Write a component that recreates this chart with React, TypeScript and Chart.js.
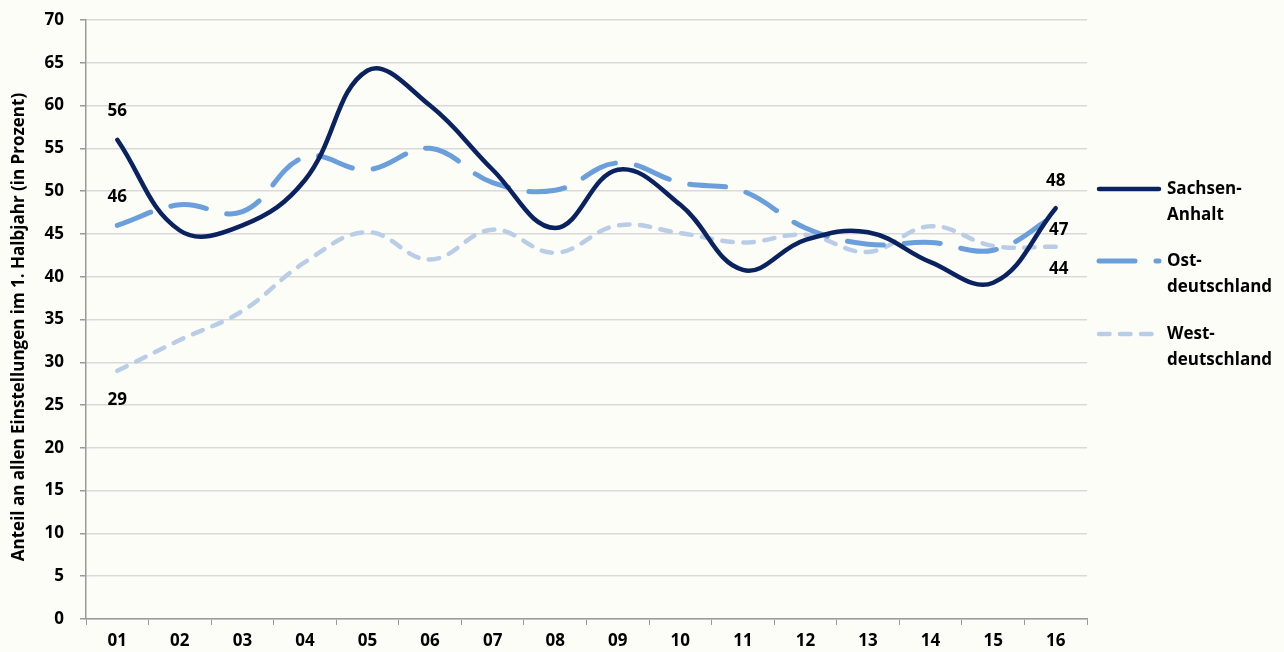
import React, { useEffect, useRef } from "react";
import { Chart, registerables } from "chart.js";

Chart.register(...registerables);

const categories = ["01", "02", "03", "04", "05", "06", "07", "08", "09", "10", "11", "12", "13", "14", "15", "16"];
const sachsenAnhalt = [56, 45.4, 46, 51.3, 64.1, 60, 52.5, 45.7, 52.5, 48.4, 40.8, 44.3, 45.2, 41.7, 39.3, 48];
const ostdeutschland = [46, 48.4, 47.6, 54, 52.5, 55, 51, 50.1, 53.3, 51, 50, 45.7, 43.8, 44, 43.1, 47.2];
const westdeutschland = [29, 32.6, 36, 41.7, 45.2, 42, 45.5, 42.8, 46, 45.1, 44, 44.9, 42.9, 45.9, 43.6, 43.5];
const seriesNames = [["Sachsen-", "Anhalt"], ["Ost-", "deutschland"], ["West-", "deutschland"]];
const yTitle = "Anteil an allen Einstellungen im 1. Halbjahr (in Prozent)";

const BG = "#FDFDF8";
const FONT = "'Open Sans', Lato, sans-serif";

const endLabelsPlugin = {
  id: "endLabels",
  afterDatasetsDraw(chart: any) {
    const ctx = chart.ctx;
    const offsets = [
      [-29, -27, 0],
      [-28, 15, 3],
      [29, 22, 3],
    ];
    ctx.save();
    ctx.font = `bold 17px ${FONT}`;
    ctx.fillStyle = "#000";
    ctx.textAlign = "center";
    ctx.textBaseline = "middle";
    chart.data.datasets.forEach((ds: any, i: number) => {
      const meta = chart.getDatasetMeta(i);
      const n = ds.data.length;
      const p0 = meta.data[0];
      const p1 = meta.data[n - 1];
      ctx.fillText(String(Math.round(ds.data[0])), p0.x, p0.y + offsets[i][0]);
      ctx.fillText(String(Math.round(ds.data[n - 1])), p1.x + offsets[i][2], p1.y + offsets[i][1]);
    });
    ctx.restore();
  },
};

const titlePlugin = {
  id: "yTitle",
  afterDraw(chart: any) {
    const ctx = chart.ctx;
    ctx.save();
    ctx.translate(19, 327);
    ctx.rotate(-Math.PI / 2);
    ctx.font = `bold 17px ${FONT}`;
    ctx.fillStyle = "#000";
    ctx.textAlign = "center";
    ctx.textBaseline = "middle";
    ctx.fillText(yTitle, 0, 0);
    ctx.restore();
  },
};

const legendPlugin = {
  id: "customLegend",
  afterDraw(chart: any) {
    const ctx = chart.ctx;
    const ys = [189, 261, 334];
    const x0 = 1099;
    const x1 = 1159;
    ctx.save();
    chart.data.datasets.forEach((ds: any, i: number) => {
      const y = ys[i];
      ctx.beginPath();
      ctx.strokeStyle = ds.borderColor;
      ctx.lineWidth = ds.borderWidth;
      ctx.lineCap = "round";
      ctx.setLineDash(ds.borderDash || []);
      ctx.moveTo(x0, y);
      ctx.lineTo(x1, y);
      ctx.stroke();
      ctx.setLineDash([]);
      ctx.fillStyle = "#000";
      ctx.font = `bold 17px ${FONT}`;
      ctx.textAlign = "left";
      ctx.textBaseline = "middle";
      const lines = seriesNames[i];
      lines.forEach((t, j) => ctx.fillText(t, 1167, y + j * 26));
    });
    ctx.restore();
  },
};

const bgPlugin = {
  id: "bg",
  beforeDraw(chart: any) {
    const ctx = chart.ctx;
    ctx.save();
    ctx.fillStyle = BG;
    ctx.fillRect(0, 0, chart.width, chart.height);
    ctx.restore();
  },
};

export default function App() {
  const ref = useRef<HTMLCanvasElement>(null);
  useEffect(() => {
    document.body.style.margin = "0";
    document.body.style.background = BG;
    const chart = new Chart(ref.current as HTMLCanvasElement, {
      type: "line",
      data: {
        labels: categories,
        datasets: [
          {
            label: "Sachsen-Anhalt",
            data: sachsenAnhalt,
            borderColor: "#0B2260",
            borderWidth: 4.5,
            borderCapStyle: "round",
            tension: 0.4,
            pointRadius: 0,
            fill: false,
            order: 1,
          },
          {
            label: "Ostdeutschland",
            data: ostdeutschland,
            borderColor: "#6A9FDB",
            borderWidth: 5,
            borderDash: [36, 21],
            borderCapStyle: "round",
            tension: 0.4,
            pointRadius: 0,
            fill: false,
            order: 2,
          },
          {
            label: "Westdeutschland",
            data: westdeutschland,
            borderColor: "#B9CDE6",
            borderWidth: 4.5,
            borderDash: [10.5, 10.5],
            borderCapStyle: "round",
            tension: 0.4,
            pointRadius: 0,
            fill: false,
            order: 3,
          },
        ],
      },
      options: {
        responsive: false,
        animation: false,
        layout: { padding: { top: 20, right: 197, left: 0, bottom: 0 } },
        plugins: { legend: { display: false }, tooltip: { enabled: false } },
        scales: {
          x: {
            offset: true,
            grid: {
              offset: true,
              drawOnChartArea: false,
              drawTicks: true,
              tickLength: 6,
              tickColor: "#9A9A9A",
            },
            border: { color: "#9A9A9A", width: 1.5 },
            ticks: {
              color: "#000",
              padding: 6,
              font: { family: FONT, weight: "bold", size: 17 },
              maxRotation: 0,
            },
            afterFit(scale: any) {
              scale.height = 33;
            },
          },
          y: {
            min: 0,
            max: 70,
            ticks: {
              stepSize: 5,
              color: "#000",
              padding: 16,
              font: { family: FONT, weight: "bold", size: 17 },
            },
            grid: {
              color: "#D9D9D9",
              lineWidth: 1.5,
              tickLength: 6,
              tickColor: "#9A9A9A",
            },
            border: { color: "#9A9A9A", width: 1.5 },
            title: { display: false, text: yTitle },
            afterFit(scale: any) {
              scale.width = 86;
              scale.paddingTop = 0;
              scale.paddingBottom = 0;
            },
          },
        },
      },
      plugins: [bgPlugin, endLabelsPlugin, legendPlugin, titlePlugin],
    } as any);
    return () => chart.destroy();
  }, []);
  return (
    <div style={{ width: 1284, height: 652 }}>
      <canvas ref={ref} width={1284} height={652} />
    </div>
  );
}
